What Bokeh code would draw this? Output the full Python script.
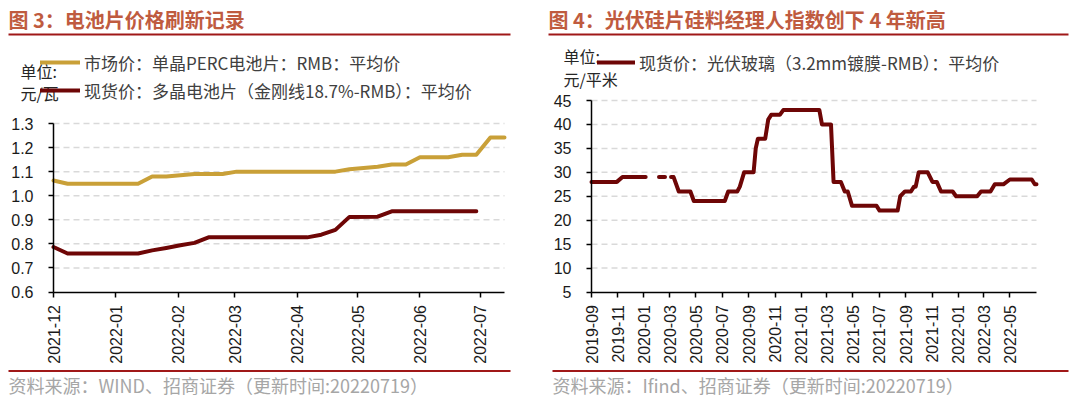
import math
import numpy as np
import pandas as pd
from bokeh.plotting import figure
from bokeh.models import (ColumnDataSource, Range1d, FixedTicker, DatetimeTickFormatter,
                          NumeralTickFormatter, Legend, LegendItem, Label, BoxAnnotation)
from bokeh.layouts import row
from bokeh.embed import file_html
from bokeh.resources import INLINE

# ---------------- data: chart 3 (cell prices, RMB/W) ----------------
mono_dates = ["2021-12-01", "2021-12-08", "2022-01-12", "2022-01-19", "2022-01-26",
              "2022-02-02", "2022-02-09", "2022-02-23", "2022-03-02", "2022-04-20",
              "2022-04-27", "2022-05-04", "2022-05-11", "2022-05-18", "2022-05-25",
              "2022-06-01", "2022-06-15", "2022-06-22", "2022-06-29", "2022-07-06",
              "2022-07-13"]
mono_perc = [1.063, 1.05, 1.05, 1.08, 1.08, 1.085, 1.09, 1.09, 1.10, 1.10,
             1.11, 1.115, 1.12, 1.13, 1.13, 1.16, 1.16, 1.17, 1.17, 1.242, 1.242]

poly_dates = ["2021-12-01", "2021-12-08", "2022-01-12", "2022-01-19", "2022-01-26",
              "2022-02-02", "2022-02-09", "2022-02-16", "2022-04-06", "2022-04-13",
              "2022-04-20", "2022-04-27", "2022-05-11", "2022-05-18", "2022-06-29"]
poly_cell = [0.787, 0.76, 0.76, 0.773, 0.783, 0.794, 0.804, 0.827, 0.827, 0.838,
             0.858, 0.912, 0.913, 0.935, 0.935]

left_xticks = ["2021-12-01", "2022-01-01", "2022-02-01", "2022-03-01", "2022-04-01",
               "2022-05-01", "2022-06-01", "2022-07-01"]
left_yticks = [0.6, 0.7, 0.8, 0.9, 1.0, 1.1, 1.2, 1.3]

# ---------------- data: chart 4 (PV glass, RMB/m2) ----------------
glass_dates = ["2019-09-01", "2019-10-30", "2019-11-12", "2020-01-05", "2020-01-20",
               "2020-02-05", "2020-02-19", "2020-02-26", "2020-03-04", "2020-03-10",
               "2020-03-22", "2020-04-18", "2020-04-26", "2020-07-07", "2020-07-15",
               "2020-08-05", "2020-08-11", "2020-08-21", "2020-09-12", "2020-09-17",
               "2020-09-22", "2020-10-09", "2020-10-16", "2020-10-23", "2020-11-12",
               "2020-11-20", "2021-02-12", "2021-02-18", "2021-03-11", "2021-03-17",
               "2021-04-03", "2021-04-12", "2021-04-19", "2021-04-29", "2021-06-25",
               "2021-07-02", "2021-08-13", "2021-08-19", "2021-08-30", "2021-09-13",
               "2021-09-20", "2021-09-24", "2021-10-01", "2021-10-22", "2021-11-02",
               "2021-11-12", "2021-11-22", "2021-12-19", "2021-12-27", "2022-02-14",
               "2022-02-23", "2022-03-17", "2022-03-27", "2022-04-16", "2022-05-01",
               "2022-06-21", "2022-06-28", "2022-07-02"]
glass_price = [28, 28, 29, 29, np.nan, 29, 29, np.nan, 29, 29,
               26, 26, 24, 24, 26, 26, 27, 30, 30, 35,
               37, 37, 41, 42, 42, 43, 43, 40, 40, 28,
               28, 26, 26, 23, 23, 22, 22, 25, 26, 26,
               27, 27, 30, 30, 28, 28, 26, 26, 25, 25,
               26, 26, 27.5, 27.5, 28.5, 28.5, 27.5, 27.5]

right_xticks = ["2019-09-01", "2019-11-01", "2020-01-01", "2020-03-01", "2020-05-01",
                "2020-07-01", "2020-09-01", "2020-11-01", "2021-01-01", "2021-03-01",
                "2021-05-01", "2021-07-01", "2021-09-01", "2021-11-01", "2022-01-01",
                "2022-03-01", "2022-05-01"]
right_yticks = [5, 10, 15, 20, 25, 30, 35, 40, 45]

# ---------------- styling ----------------
GOLD = "#C9A038"
MAROON = "#6E0606"
TITLE_C = "#BF5B3F"
RULE_C = "#A01818"
CJK = "Noto Sans CJK SC"
W, H = 540, 398


def ms(d):
    return pd.Timestamp(d).value // 10**6


def make_chart(d0, d1, px0, px1, v0, v1, py0, py1, xticks, yticks, yfmt):
    """Figure whose frame is the whole canvas; axes are pinned at the data origin."""
    t0, t1 = ms(d0), ms(d1)
    kx = (t1 - t0) / (px1 - px0)
    ky = (v1 - v0) / (py0 - py1)
    p = figure(width=W, height=H, x_axis_type="datetime",
               x_range=Range1d(t0 - px0 * kx, t1 + (W - px1) * kx),
               y_range=Range1d(v0 - (H - py0) * ky, v1 + py1 * ky),
               output_backend="svg", toolbar_location=None, title=None, min_border=0)
    p.xaxis.fixed_location = v0
    p.yaxis.fixed_location = t0
    p.xaxis.bounds = (t0, t1)
    p.yaxis.bounds = (v0, v1)
    p.xaxis.ticker = FixedTicker(ticks=[ms(d) for d in xticks])
    p.xaxis.formatter = DatetimeTickFormatter(days="%Y-%m", months="%Y-%m", years="%Y-%m",
                                              hours="%Y-%m", minutes="%Y-%m")
    p.xaxis.major_label_orientation = math.pi / 2
    p.yaxis.ticker = FixedTicker(ticks=yticks)
    p.yaxis.formatter = NumeralTickFormatter(format=yfmt)
    for ax in (p.xaxis[0], p.yaxis[0]):
        ax.axis_line_color = "black"
        ax.axis_line_width = 1.5
        ax.major_tick_line_color = "black"
        ax.major_tick_line_width = 1.5
        ax.major_tick_out = 5
        ax.major_tick_in = 0
        ax.minor_tick_line_color = None
        ax.major_label_text_font = "Liberation Sans"
        ax.major_label_text_font_size = "16px"
        ax.major_label_text_color = "#1A1A1A"
    p.xaxis.major_label_standoff = 8
    p.yaxis.major_label_standoff = 15
    p.grid.visible = False
    p.outline_line_color = None
    p.background_fill_color = "white"
    p.border_fill_color = "white"
    # dashed horizontal gridlines spanning the plotting area only
    gy = [v for v in yticks if v != v0]
    p.segment(x0=[t0] * len(gy), x1=[t1] * len(gy), y0=gy, y1=gy,
              line_color="#D9D9D9", line_width=1.5, line_dash="6 4")
    return p


def text(p, x, y, s, size, color, bold=False):
    p.add_layout(Label(x=x, y=H - y, x_units="screen", y_units="screen", text=s,
                       text_font=CJK, text_font_size=size, text_color=color,
                       text_font_style="bold" if bold else "normal",
                       text_baseline="middle", text_align="left"))


def rule(p, x0, x1, y):
    p.add_layout(BoxAnnotation(left=x0, right=x1, top=H - y + 1, bottom=H - y - 1,
                               left_units="screen", right_units="screen",
                               top_units="screen", bottom_units="screen",
                               fill_color=RULE_C, fill_alpha=1.0, line_color=None))


def legend(p, items, x, y_top, glyph_w):
    leg = Legend(items=items, location=(x, H - y_top - 28 * len(items)),
                 orientation="vertical", glyph_width=glyph_w, glyph_height=28,
                 label_height=28, spacing=0, padding=0, margin=0, label_standoff=4,
                 border_line_color=None, background_fill_alpha=0,
                 label_text_font=CJK, label_text_font_size="17px", label_text_color="#404040")
    p.add_layout(leg)


# ---------------- left chart ----------------
p1 = make_chart("2021-12-01", "2022-07-13", 53, 504, 0.6, 1.3, 291.5, 123,
                left_xticks, left_yticks, "0.0")
src_mono = ColumnDataSource(dict(x=pd.to_datetime(mono_dates), y=mono_perc))
src_poly = ColumnDataSource(dict(x=pd.to_datetime(poly_dates), y=poly_cell))
r_mono = p1.line("x", "y", source=src_mono, line_color=GOLD, line_width=4,
                 line_join="round", line_cap="round")
r_poly = p1.line("x", "y", source=src_poly, line_color=MAROON, line_width=4,
                 line_join="round", line_cap="round")

text(p1, 8, 19, "图 3：电池片价格刷新记录", "20px", TITLE_C, bold=True)
rule(p1, 8, 510, 34)
text(p1, 20, 70, "单位:", "16px", "#262626")
text(p1, 20, 92, "元/瓦", "16px", "#262626")
legend(p1, [LegendItem(label="市场价：单晶PERC电池片：RMB：平均价", renderers=[r_mono]),
            LegendItem(label="现货价：多晶电池片（金刚线18.7%-RMB）：平均价", renderers=[r_poly])],
       40, 48, 40)
rule(p1, 8, 510, 370.5)
text(p1, 8, 384, "资料来源：WIND、招商证券（更新时间:20220719）", "18px", "#A6A6A6")

# ---------------- right chart ----------------
p2 = make_chart("2019-09-01", "2022-07-02", 51, 496, 5, 45, 291.5, 100,
                right_xticks, right_yticks, "0")
src_glass = ColumnDataSource(dict(x=pd.to_datetime(glass_dates), y=glass_price))
r_glass = p2.line("x", "y", source=src_glass, line_color=MAROON, line_width=4,
                  line_join="round", line_cap="round")

text(p2, 8, 19, "图 4：光伏硅片硅料经理人指数创下 4 年新高", "20px", TITLE_C, bold=True)
rule(p2, 8, 528, 34)
text(p2, 23, 55, "单位:", "16px", "#262626")
text(p2, 23, 78, "元/平米", "16px", "#262626")
legend(p2, [LegendItem(label="现货价：光伏玻璃（3.2mm镀膜-RMB）：平均价", renderers=[r_glass])],
       57, 48, 38)
rule(p2, 12, 528, 370.5)
text(p2, 12, 384, "资料来源：Ifind、招商证券（更新时间:20220719）", "18px", "#A6A6A6")

layout = row(p1, p2)
open("out.html", "w").write(file_html(layout, INLINE))
